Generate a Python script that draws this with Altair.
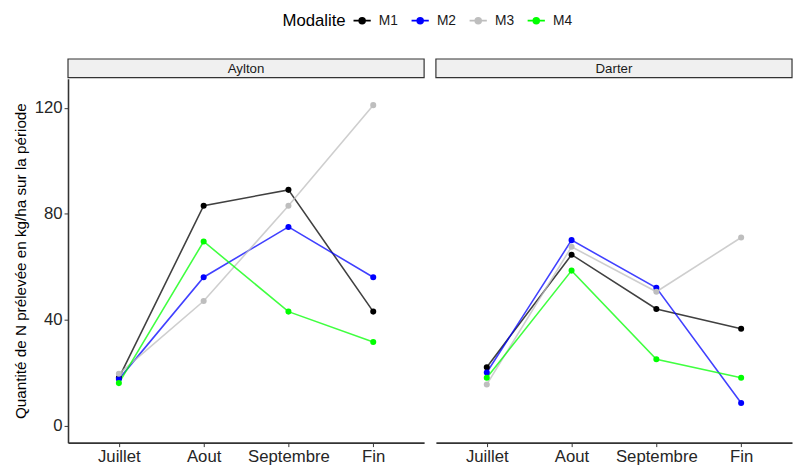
import altair as alt
import pandas as pd

months = ["Juillet", "Aout", "Septembre", "Fin"]
modalites = ["M1", "M2", "M3", "M4"]
colors = ["#000000", "#0000ff", "#bebebe", "#00ff00"]
panels = ["Aylton", "Darter"]

aylton_m1 = [18, 83, 89, 43]
aylton_m2 = [17.5, 56, 75, 56]
aylton_m3 = [19.5, 47, 83, 121]
aylton_m4 = [16, 69.5, 43, 31.5]

darter_m1 = [22, 64.5, 44, 36.5]
darter_m2 = [20, 70, 52, 8.5]
darter_m3 = [15.5, 67.5, 50.5, 71]
darter_m4 = [18, 58.5, 25, 18]

series = {
    "Aylton": [aylton_m1, aylton_m2, aylton_m3, aylton_m4],
    "Darter": [darter_m1, darter_m2, darter_m3, darter_m4],
}

rows = []
for p in panels:
    for m, vals in zip(modalites, series[p]):
        for mo, v in zip(months, vals):
            rows.append({"panel": p, "modalite": m, "mois": mo, "valeur": v})
df = pd.DataFrame(rows)

W, H = 362, 370
FONT = "Liberation Sans"

color = alt.Color(
    "modalite:N",
    scale=alt.Scale(domain=modalites, range=colors),
    legend=alt.Legend(
        title="Modalite",
        symbolType="M-1.6,0L1.6,0M-0.55,0A0.55,0.55 0 1,0 0.55,0A0.55,0.55 0 1,0 -0.55,0Z",
        symbolSize=120,
        symbolStrokeWidth=1.6,
        symbolOpacity=1,
    ),
)


def panel(name, show_y):
    d = df[df["panel"] == name]
    x = alt.X(
        "mois:N",
        sort=months,
        scale=alt.Scale(type="point", padding=0.6),
        axis=alt.Axis(title=None, labelAngle=0, labelFontSize=17, labelColor="#262626",
                      tickColor="#333333", tickSize=4, domainColor="#333333",
                      domainWidth=1.6, labelPadding=2),
    )
    if show_y:
        yaxis = alt.Axis(
            title="Quantité de N prélevée en kg/ha sur la période",
            values=[0, 40, 80, 120], labelFontSize=17, labelColor="#262626",
            titleFontSize=15.5, titleFontWeight="normal", titleColor="#000000",
            tickColor="#333333", tickSize=4, domainColor="#333333", domainWidth=1.6,
            grid=False, labelPadding=2, titlePadding=6,
        )
    else:
        yaxis = None
    y = alt.Y("valeur:Q", scale=alt.Scale(domain=[-6.5, 131], nice=False, zero=False), axis=yaxis)

    base = alt.Chart(d)
    lines = base.mark_line(strokeWidth=1.6, opacity=0.75).encode(x=x, y=y, color=color,
                                                                 detail="modalite:N")
    points = base.mark_point(filled=True, size=38, opacity=1).encode(x=x, y=y, color=color)
    sd = pd.DataFrame({"t": [name]})
    strip = alt.Chart(sd).mark_rect(fill="#f0f0f0", stroke="#333333", strokeWidth=1.2).encode(
        x=alt.value(0), x2=alt.value(W), y=alt.value(-20), y2=alt.value(-1)
    )
    stext = alt.Chart(sd).mark_text(fontSize=13.5, font=FONT, color="#1a1a1a").encode(
        x=alt.value(W / 2), y=alt.value(-10), text="t:N"
    )
    return alt.layer(strip, stext, lines, points).properties(width=W, height=H)


chart = alt.hconcat(panel("Aylton", True), panel("Darter", False), spacing=10).properties(
    padding={"left": 5, "top": 2, "right": 0, "bottom": 5}
).configure_view(stroke=None).configure_axis(grid=False, labelFont=FONT, titleFont=FONT).configure_legend(
    orient="none", legendX=218, legendY=-66, direction="horizontal", titleOrient="left",
    titleFont=FONT, labelFont=FONT, titleFontSize=17, titleFontWeight="normal", labelFontSize=14,
    titleColor="#000000", labelColor="#1a1a1a", columnPadding=10, titlePadding=9, labelOffset=10,
)

chart.save("out.html", embed_options={"renderer": "svg", "actions": False})
